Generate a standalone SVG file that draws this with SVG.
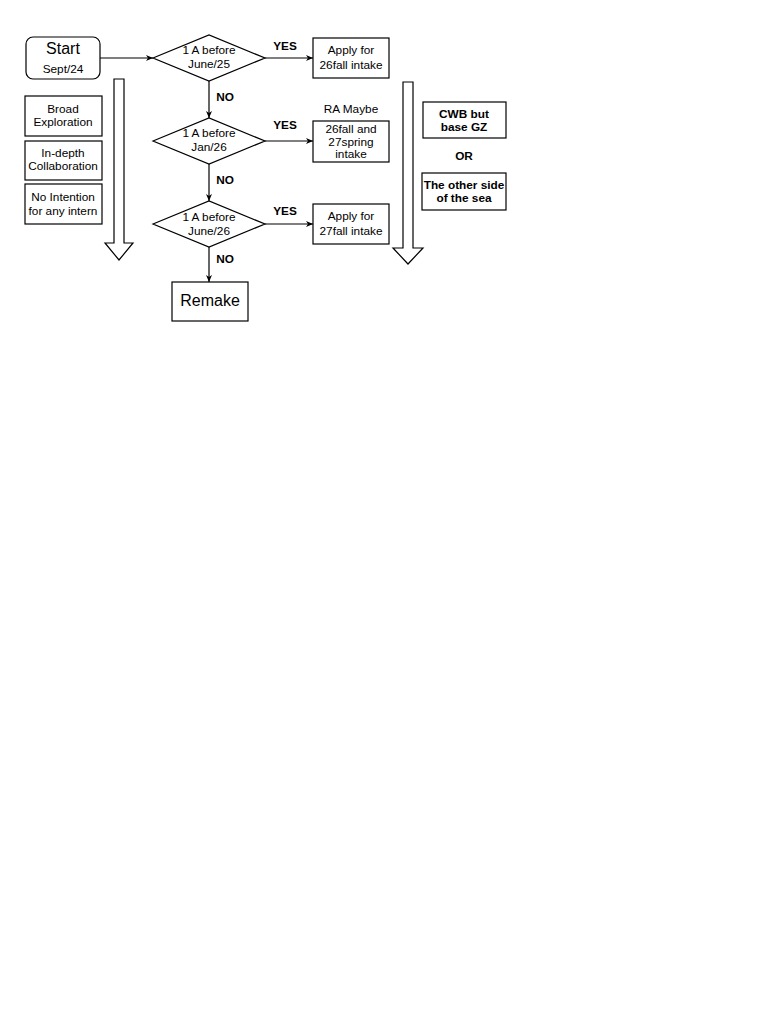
<svg xmlns="http://www.w3.org/2000/svg" width="768" height="1024" viewBox="0 0 768 1024">
<style>
.s{fill:#fff;stroke:#000;stroke-width:1.2}
.t{font-family:"Liberation Sans",Arial,sans-serif;font-size:11.8px;fill:#000;text-anchor:middle}
.b{font-weight:bold}
.c{stroke:#000;stroke-width:1.2;fill:none}
</style>
<defs>
<marker id="ah" markerWidth="8" markerHeight="8" refX="7" refY="4" orient="auto" markerUnits="userSpaceOnUse">
<path d="M0,1 L7,4 L0,7 L2,4 Z" fill="#000"/>
</marker>
</defs>
<rect width="768" height="1024" fill="#fff"/>
<g id="start"><rect class="s" x="26" y="37" width="74" height="42" rx="7"/>
<text class="t" x="63" y="54" style="font-size:16px">Start</text>
<text class="t" x="63" y="73">Sept/24</text></g>
<g id="d1"><polygon class="s" points="153,58 209,35 265,58 209,81"/>
<text class="t" x="209" y="54">1 A before</text><text class="t" x="209" y="68">June/25</text></g>
<g id="b1"><rect class="s" x="313" y="38" width="76" height="40"/>
<text class="t" x="351" y="54">Apply for</text><text class="t" x="351" y="69">26fall intake</text></g>
<g id="d2"><polygon class="s" points="153,141 209,118 265,141 209,164"/>
<text class="t" x="209" y="137">1 A before</text><text class="t" x="209" y="151">Jan/26</text></g>
<text class="t" x="351" y="113">RA Maybe</text>
<g id="b2"><rect class="s" x="313" y="121" width="76" height="41"/>
<text class="t" x="351" y="133">26fall and</text><text class="t" x="351" y="146">27spring</text><text class="t" x="351" y="158">intake</text></g>
<g id="d3"><polygon class="s" points="153,224 209,201 265,224 209,247"/>
<text class="t" x="209" y="221">1 A before</text><text class="t" x="209" y="235">June/26</text></g>
<g id="b3"><rect class="s" x="313" y="204" width="76" height="40"/>
<text class="t" x="351" y="220">Apply for</text><text class="t" x="351" y="235">27fall intake</text></g>
<g id="remake"><rect class="s" x="172" y="282" width="76" height="39"/>
<text class="t" x="210" y="306" style="font-size:16px">Remake</text></g>
<g id="l1"><rect class="s" x="25" y="96" width="77" height="40"/>
<text class="t" x="63" y="113">Broad</text><text class="t" x="63" y="126">Exploration</text></g>
<g id="l2"><rect class="s" x="25" y="141" width="77" height="39"/>
<text class="t" x="63" y="157">In-depth</text><text class="t" x="63" y="170">Collaboration</text></g>
<g id="l3"><rect class="s" x="25" y="184" width="77" height="40"/>
<text class="t" x="63" y="201">No Intention</text><text class="t" x="63" y="215">for any intern</text></g>
<g id="r1"><rect class="s" x="423" y="102" width="83" height="36"/>
<text class="t b" x="464" y="118">CWB but</text><text class="t b" x="464" y="131">base GZ</text></g>
<text class="t b" x="464" y="160">OR</text>
<g id="r2"><rect class="s" x="422" y="173" width="84" height="37"/>
<text class="t b" x="464" y="189">The other side</text><text class="t b" x="464" y="202">of the sea</text></g>
<g id="bigarrows">
<polygon class="s" points="114,79 124,79 124,243 133,243 119,260 105,243 114,243"/>
<polygon class="s" points="403,82 413,82 413,248 423,248 408,264 393,248 403,248"/>
</g>
<g id="connectors">
<line class="c" x1="100" y1="58" x2="153" y2="58" marker-end="url(#ah)"/>
<line class="c" x1="265" y1="58" x2="313" y2="58" marker-end="url(#ah)"/>
<line class="c" x1="265" y1="141" x2="313" y2="141" marker-end="url(#ah)"/>
<line class="c" x1="265" y1="224" x2="313" y2="224" marker-end="url(#ah)"/>
<line class="c" x1="209" y1="81" x2="209" y2="118" marker-end="url(#ah)"/>
<line class="c" x1="209" y1="164" x2="209" y2="201" marker-end="url(#ah)"/>
<line class="c" x1="209" y1="247" x2="209" y2="282" marker-end="url(#ah)"/>
<text class="t b" x="285" y="50">YES</text>
<text class="t b" x="285" y="129">YES</text>
<text class="t b" x="285" y="215">YES</text>
<text class="t b" x="225" y="101">NO</text>
<text class="t b" x="225" y="184">NO</text>
<text class="t b" x="225" y="263">NO</text>
</g>
</svg>
